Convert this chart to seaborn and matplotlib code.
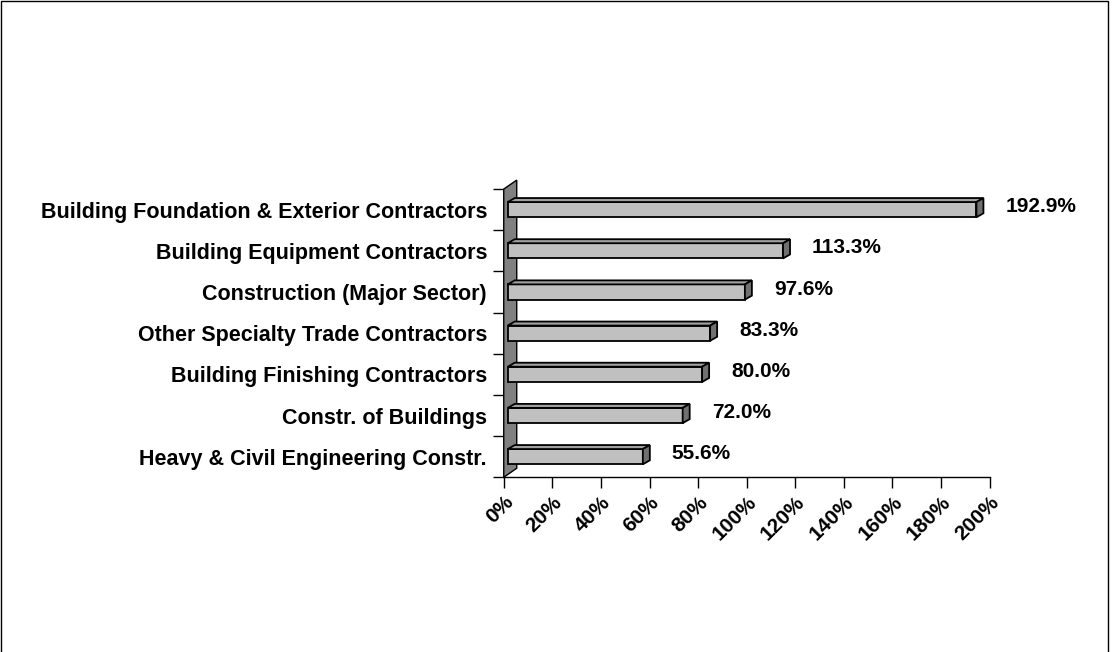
#!/usr/bin/env python3
"""
Percent change by construction sub-sector - 3D-style horizontal bar chart
"""

import numpy as np
import pandas as pd
import matplotlib
matplotlib.use("Agg")
import matplotlib.pyplot as plt
import matplotlib.ticker as mticker
from matplotlib.patches import Polygon, Rectangle
from matplotlib.transforms import IdentityTransform
import seaborn as sns

# Data
categories = [
    "Building Foundation & Exterior Contractors",
    "Building Equipment Contractors",
    "Construction (Major Sector)",
    "Other Specialty Trade Contractors",
    "Building Finishing Contractors",
    "Constr. of Buildings",
    "Heavy & Civil Engineering Constr.",
]
values = [192.9, 113.3, 97.6, 83.3, 80.0, 72.0, 55.6]
x_ticks = [0, 20, 40, 60, 80, 100, 120, 140, 160, 180, 200]

df = pd.DataFrame({"category": categories, "value": values})

# Style
sns.set_style("white")
plt.rcParams['font.family'] = ['Liberation Sans', 'DejaVu Sans']
plt.rcParams['font.weight'] = 'bold'
plt.rcParams['text.color'] = 'black'
plt.rcParams['xtick.color'] = 'black'
plt.rcParams['ytick.color'] = 'black'

DPI = 100
fig = plt.figure(figsize=(11.12, 6.52), dpi=DPI)
ax = fig.add_axes([0.453, 0.268, 0.437, 0.442])

sns.barplot(data=df, x="value", y="category", orient="h", ax=ax,
            color="#C0C0C0", edgecolor="black", linewidth=1.2,
            width=0.37, saturation=1, zorder=3)

ax.set_xlim(0, 200)
ax.set_ylim(6.5, -0.5)
ax.set_xlabel("")
ax.set_ylabel("")
ax.xaxis.set_major_locator(mticker.FixedLocator(x_ticks))
ax.xaxis.set_major_formatter(mticker.FuncFormatter(lambda v, p: f"{v:.0f}%"))
ax.yaxis.set_minor_locator(mticker.FixedLocator(np.arange(-0.5, len(categories), 1.0)))
ax.tick_params(axis='x', which='major', direction='out', length=8, width=1,
               labelsize=15, pad=3, bottom=True, labelcolor='black')
ax.tick_params(axis='y', which='major', length=0, labelsize=15.5, pad=12,
               labelcolor='black')
ax.tick_params(axis='y', which='minor', direction='out', length=8, width=1, left=True)
for lbl in ax.get_xticklabels():
    lbl.set_rotation(45)
    lbl.set_ha('right')
    lbl.set_va('top')
    lbl.set_rotation_mode('anchor')
    lbl.set_fontweight('bold')
for lbl in ax.get_yticklabels():
    lbl.set_fontweight('bold')

for side in ['top', 'right']:
    ax.spines[side].set_visible(False)
for side in ['left', 'bottom']:
    ax.spines[side].set_color('black')
    ax.spines[side].set_linewidth(1)

fig.canvas.draw()

# 3D decorations in display (pixel) space
dx, dy = 7, 4          # bar depth
wx, wy = 13, 9         # wall depth
shift = 4              # bars sit slightly in front of the wall

# back wall
(x0, y_bot), (_, y_top) = ax.transData.transform([(0, 6.5), (0, -0.5)])
wall = Polygon([(x0, y_bot), (x0, y_top), (x0 + wx, y_top + wy), (x0 + wx, y_bot + wy)],
               closed=True, facecolor="#808080", edgecolor="black", linewidth=1,
               transform=IdentityTransform(), zorder=2, clip_on=False)
fig.add_artist(wall)

for patch, v in zip(ax.patches, values):
    x_a, y_a = patch.get_x(), patch.get_y()
    w, h = patch.get_width(), patch.get_height()
    (px0, py0), (px1, py1) = ax.transData.transform([(x_a, y_a + h), (x_a + w, y_a)])
    px0 += shift
    px1 += shift
    # py0 bottom, py1 top (display coords, y up)
    front = Polygon([(px0, py0), (px1, py0), (px1, py1), (px0, py1)], closed=True,
                    facecolor="#C0C0C0", edgecolor="black", linewidth=1.3,
                    transform=IdentityTransform(), zorder=5)
    top = Polygon([(px0, py1), (px1, py1), (px1 + dx, py1 + dy), (px0 + dx, py1 + dy)],
                  closed=True, facecolor="#A0A0A0", edgecolor="black", linewidth=1.3,
                  transform=IdentityTransform(), zorder=5)
    side = Polygon([(px1, py0), (px1, py1), (px1 + dx, py1 + dy), (px1 + dx, py0 + dy)],
                   closed=True, facecolor="#707070", edgecolor="black", linewidth=1.3,
                   transform=IdentityTransform(), zorder=5)
    for poly in (front, top, side):
        fig.add_artist(poly)
    patch.set_visible(False)
    # value label
    lx, ly = px1 + dx + 22, (py0 + py1) / 2 + 3
    fig.text(lx / fig.bbox.width, ly / fig.bbox.height, f"{v:.1f}%",
             fontsize=15, fontweight='bold', ha='left', va='center', color='black')

# outer border of the chart
fig.add_artist(Rectangle((0.001, -0.01), 0.9955, 1.008, transform=fig.transFigure,
                         fill=False, edgecolor="black", linewidth=1))

fig.savefig("out.png", dpi=DPI)
